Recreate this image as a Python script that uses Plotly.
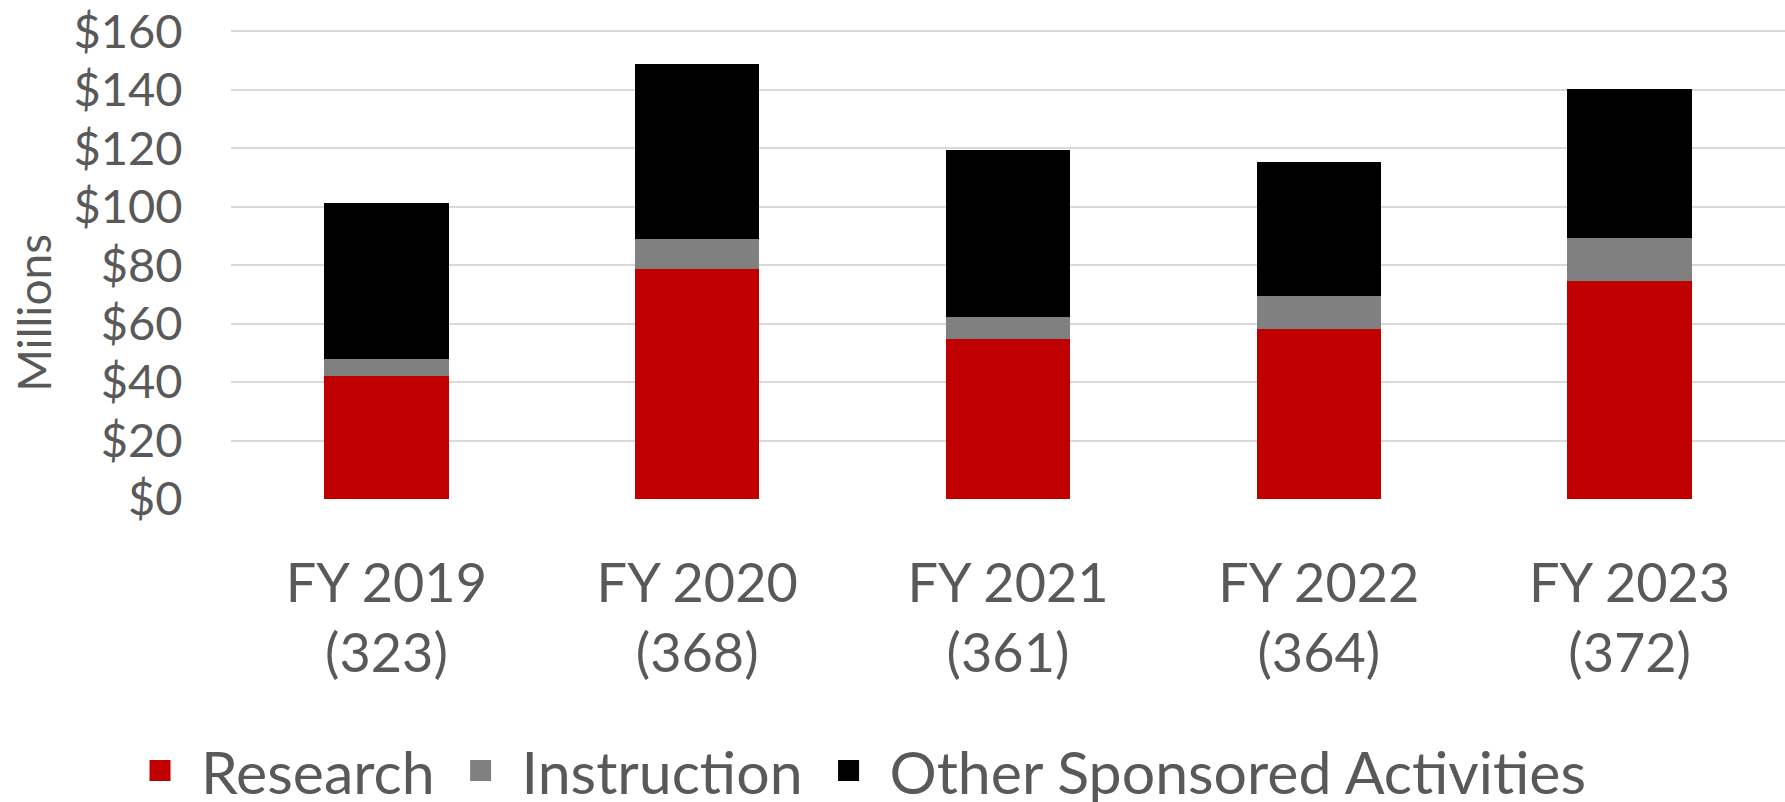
import plotly.graph_objects as go

categories = ["FY 2019<br>(323)", "FY 2020<br>(368)", "FY 2021<br>(361)", "FY 2022<br>(364)", "FY 2023<br>(372)"]
research = [42.2, 78.5, 54.6, 58.1, 74.4]
instruction = [5.7, 10.5, 7.7, 11.2, 15.0]
other = [53.3, 59.9, 57.2, 45.9, 50.9]
series_names = ["Research", "Instruction", "Other Sponsored Activities"]
series_colors = ["#C00000", "#808080", "#000000"]
y_ticks = [0, 20, 40, 60, 80, 100, 120, 140, 160]
y_tick_labels = ["$0", "$20", "$40", "$60", "$80", "$100", "$120", "$140", "$160"]

FONT = "Lato"
TXT = "#595959"

fig = go.Figure()
for name, vals, col in zip(series_names, [research, instruction, other], series_colors):
    fig.add_trace(go.Bar(name=name, x=categories, y=vals, legendgroup=name, showlegend=False,
                         marker=dict(color=col, line=dict(width=0))))
# legend entries (larger square swatches)
for name, col in zip(series_names, series_colors):
    fig.add_trace(go.Scatter(name=name, x=[None], y=[None], mode="markers", legendgroup=name,
                             showlegend=True, hoverinfo="skip",
                             marker=dict(symbol="square", size=16, color=col, line=dict(width=5, color=col))))

fig.update_layout(
    barmode="stack",
    bargap=0.6,
    width=1785,
    height=802,
    margin=dict(l=231, r=0, t=30, b=303, autoexpand=False),
    plot_bgcolor="white",
    paper_bgcolor="white",
    font=dict(family=FONT, color=TXT),
    legend=dict(
        orientation="h",
        x=0.479, xref="container", xanchor="center",
        y=0.039, yref="container", yanchor="middle",
        font=dict(size=59, color=TXT, family=FONT),
        itemwidth=72, itemsizing="trace",
        traceorder="normal",
    ),
    showlegend=True,
)
fig.update_xaxes(
    tickfont=dict(size=54, color=TXT, family=FONT),
    tickangle=0, automargin=False,
    ticks="outside", ticklen=37, tickcolor="rgba(0,0,0,0)",
    showgrid=False, showline=False, zeroline=False,
)
fig.update_yaxes(
    range=[0, 160.4], automargin=False,
    tickmode="array", tickvals=y_ticks, ticktext=y_tick_labels,
    tickfont=dict(size=47, color=TXT, family=FONT),
    ticks="outside", ticklen=38, tickcolor="rgba(0,0,0,0)",
    showgrid=True, gridcolor="#D9D9D9", gridwidth=2,
    zeroline=False, showline=False,
)
fig.add_annotation(
    text="Millions", textangle=-90,
    xref="paper", yref="paper", x=-0.1268, y=0.397,
    xanchor="center", yanchor="middle", showarrow=False,
    font=dict(size=46, color=TXT, family=FONT),
)
fig.write_html("out.html", config={"displayModeBar": False},
               post_script="document.body.style.margin='0';")
